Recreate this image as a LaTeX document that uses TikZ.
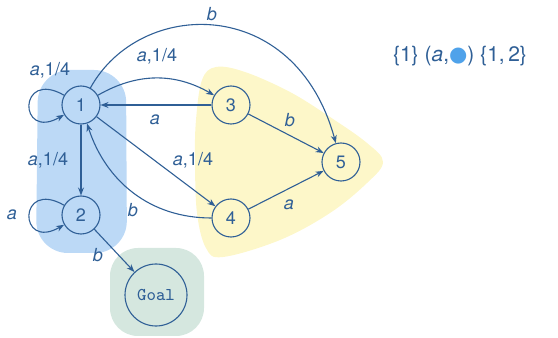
\documentclass[tikz,border=0pt]{standalone}
\usepackage{fontspec}
\setmainfont{TeX Gyre Heros}
\newfontfamily\dotfont{DejaVu Sans}
\usetikzlibrary{arrows.meta}
\definecolor{edgeblue}{HTML}{2F5F96}
\definecolor{setblue}{HTML}{BCD9F6}
\definecolor{setyellow}{HTML}{FDF7C9}
\definecolor{setgreen}{HTML}{D5E7DF}
\definecolor{dotblue}{HTML}{4FA2EA}

\begin{document}
\begin{tikzpicture}[x=0.5pt,y=0.5pt,>={Stealth[length=4pt,width=3pt]},
  state/.style={draw=edgeblue,line width=0.55pt,circle,minimum size=19pt,inner sep=0pt,
    text=edgeblue,font=\fontsize{9}{10}\selectfont},
  lbl/.style={text=edgeblue,font=\fontsize{9}{10}\selectfont},
  trans/.style={->,draw=edgeblue,line width=0.55pt}]
  \useasboundingbox (0,0) rectangle (558,338);
  \fill[setblue,rounded corners=16pt] (38,268)--(126,268)--(127,85)--(36,85)--cycle;
  \fill[setyellow] plot[smooth cycle,tension=0.6] coordinates {
    (196,218) (202,258) (216,271) (245,266) (290,246) (330,221) (367,195) (383,176)
    (367,155) (330,125) (280,98) (223,81) (206,90) (197,125) (195,178)};
  \fill[setgreen,rounded corners=14pt] (110,2) rectangle (204,90);
  \node[state] (n1) at (81,233) {1};
  \node[state] (n2) at (81,123) {2};
  \node[state] (n3) at (231,233) {3};
  \node[state] (n4) at (231,120) {4};
  \node[state] (n5) at (341,176) {5};
  \node[state,minimum size=31pt,font=\fontsize{9}{10}\ttfamily] (goal) at (156,43) {Goal};
  \draw[trans] (n1) to[out=150,in=210,looseness=7] (n1);
  \draw[trans] (n1) to[bend left=30] (n3);
  \draw[trans] (n3) -- (n1);
  \draw[trans] (n1) -- (n2);
  \draw[trans] (n1) -- (n4);
  \draw[trans] (n4) to[out=180,in=-72] (n1);
  \draw[trans] (n1) .. controls (140,340) and (295,344) .. (n5);
  \draw[trans] (n3) -- (n5);
  \draw[trans] (n4) -- (n5);
  \draw[trans] (n2) to[out=150,in=210,looseness=7] (n2);
  \draw[trans] (n2) -- (goal);
  \node[lbl] (l11) at (50,268) {\textit{a},1/4};
  \node[lbl] (l15) at (212,324) {\textit{b}};
  \node[lbl] (l13) at (157,282) {\textit{a},1/4};
  \node[lbl] (l31) at (155,218) {\textit{a}};
  \node[lbl] (l12) at (48,178) {\textit{a},1/4};
  \node[lbl] (l14) at (193,178) {\textit{a},1/4};
  \node[lbl] (l41) at (133,128) {\textit{b}};
  \node[lbl] (l35) at (290,218) {\textit{b}};
  \node[lbl] (l45) at (289,133) {\textit{a}};
  \node[lbl] (l22) at (12,123) {\textit{a}};
  \node[lbl] (l2g) at (98,83) {\textit{b}};
  \node[lbl,font=\fontsize{10.5}{12}\selectfont] (rule) at (460,282)
    {\{1\} (\textit{a},{\dotfont\textcolor{dotblue}{●}}) \{1,\,2\}};
\end{tikzpicture}
\end{document}
